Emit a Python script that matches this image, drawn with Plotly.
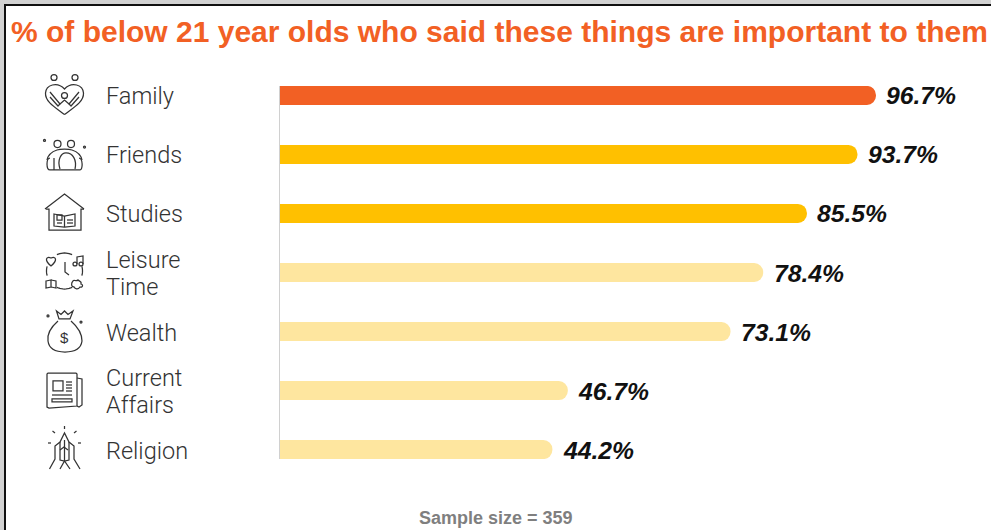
import math
import plotly.graph_objects as go

# Survey results
categories = ["Family", "Friends", "Studies", "Leisure Time", "Wealth", "Current Affairs", "Religion"]
values = [96.7, 93.7, 85.5, 78.4, 73.1, 46.7, 44.2]
bar_colors = ["#F26024", "#FFC000", "#FFC000", "#FEE69F", "#FEE69F", "#FEE69F", "#FEE69F"]
title_text = "% of below 21 year olds who said these things are important to them"
footer_text = "Sample size = 359"

W, H = 991, 530
LEFT, TOP, BOTTOM = 280, 86, 459
PX_PER_UNIT = 6.163
ICON = "#333333"


def px(x):
    return (x - LEFT) / (W - LEFT)


def py(y):
    return (BOTTOM - y) / (BOTTOM - TOP)


def path(*cmds):
    """Build an SVG path from page-pixel commands, expressed in paper coordinates."""
    out = []
    for c in cmds:
        letter, nums = c[0], c[1:]
        pts = []
        for i in range(0, len(nums), 2):
            pts.append(f"{px(nums[i]):.5f},{py(nums[i + 1]):.5f}")
        out.append(letter + " ".join(pts))
    return " ".join(out)


def circle(cx, cy, r):
    k = 0.5523 * r
    return [("M", cx + r, cy),
            ("C", cx + r, cy + k, cx + k, cy + r, cx, cy + r),
            ("C", cx - k, cy + r, cx - r, cy + k, cx - r, cy),
            ("C", cx - r, cy - k, cx - k, cy - r, cx, cy - r),
            ("C", cx + k, cy - r, cx + r, cy - k, cx + r, cy)]


def arc(cx, cy, r, a0, a1, n=10):
    pts = [(cx + r * math.cos(math.radians(a0 + (a1 - a0) * i / n)),
            cy + r * math.sin(math.radians(a0 + (a1 - a0) * i / n))) for i in range(n + 1)]
    return [("M", *pts[0])] + [("L", *p) for p in pts[1:]]


def poly(*xy, close=False):
    cmds = [("M", xy[0], xy[1])]
    for i in range(2, len(xy), 2):
        cmds.append(("L", xy[i], xy[i + 1]))
    if close:
        cmds.append(("Z",))
    return cmds


icon_parts = [
    # family: heart, three heads and two arms
    circle(54, 77.5, 3), circle(75, 77.5, 3), circle(64.5, 95.5, 3),
    [("M", 64.5, 114.5), ("C", 56, 108, 45, 102, 45.5, 93), ("C", 46, 85, 57, 81, 64.5, 89),
     ("C", 72, 81, 83, 85, 83.5, 93), ("C", 84, 102, 73, 108, 64.5, 114.5)],
    poly(50, 92, 60, 104, 58, 106, 50, 97), poly(79, 92, 69, 104, 71, 106, 79, 97),
    poly(60, 104, 64.5, 100, 69, 104),
    # friends
    circle(57.5, 144, 3.5), circle(71, 144, 3.5),
    circle(44.5, 140.5, 1), circle(84.5, 147, 1),
    [("M", 47, 160), ("C", 48, 155, 51, 152, 57, 150), ("C", 60, 149, 69, 149, 72, 150),
     ("C", 78, 152, 81, 155, 82, 160)],
    [("M", 60, 169), ("C", 57, 160, 61, 153, 66, 153), ("C", 73, 153, 77, 160, 75, 169)],
    [("M", 50, 170), ("L", 80, 170), ("C", 83, 170, 83, 158, 79, 158)],
    [("M", 50, 170), ("C", 46, 170, 46, 158, 50, 158)],
    poly(54, 158, 54, 170),
    # studies: house with an open book
    poly(45, 209, 64.5, 194, 84, 209), poly(46, 209, 49, 209, 49, 230, 81, 230, 81, 209, 84, 209),
    poly(54, 214, 64.5, 216, 75, 214, 75, 226, 64.5, 227, 54, 226, close=True), poly(64.5, 216, 64.5, 227),
    poly(57, 215, 62, 215, 62, 220, 57, 220, close=True), poly(57, 223, 62, 223),
    poly(67, 220, 73, 220), poly(67, 223, 73, 223),
    # leisure time: clock ringed by small pictures
    arc(64.5, 271, 18, -115, -65), arc(64.5, 271, 18, 65, 115),
    arc(64.5, 271, 18, 165, 195), arc(64.5, 271, 18, -15, 15),
    poly(65, 262, 65, 272, 69, 275),
    [("M", 51, 266), ("C", 44, 260, 46, 256, 51, 258), ("C", 56, 256, 58, 260, 51, 266)],
    circle(75, 264, 2), circle(81, 264, 2), poly(77, 264, 77, 257, 83, 256, 83, 264),
    poly(46, 281, 51, 280, 51, 287, 46, 288, close=True), poly(51, 280, 56, 281, 56, 288, 51, 287),
    [("M", 73, 281), ("C", 74, 279, 76, 282, 78, 280), ("C", 80, 282, 82, 281, 81, 284),
     ("C", 84, 285, 82, 288, 80, 287), ("C", 78, 290, 75, 289, 74, 287), ("C", 71, 287, 71, 283, 73, 281)],
    # wealth: money bag with crown tie
    poly(56.5, 311, 59, 319, 70, 319, 73, 311, 68, 314.5, 64.5, 311, 61, 314.5, close=True),
    [("M", 58, 321), ("C", 50, 328, 47, 335, 48, 341), ("C", 49, 349, 56, 352, 65, 352),
     ("C", 74, 352, 81, 349, 82, 341), ("C", 82, 335, 79, 328, 71, 321)],
    circle(48, 316, 1), circle(81, 322, 1),
    # current affairs: newspaper
    poly(48, 373, 76, 373, 77, 374, 77, 406, 49, 408, 47, 407, 47, 374, close=True),
    poly(77, 378, 82, 379, 82, 405, 79, 407, 77, 406),
    poly(53, 381, 63, 381, 63, 391, 53, 391, close=True),
    poly(66, 382, 72, 382), poly(66, 385, 72, 385), poly(66, 388, 72, 388), poly(66, 391, 72, 391),
    poly(52, 395, 72, 395), poly(52, 399, 72, 399, 72, 402, 52, 402, close=True),
    # religion: praying hands
    poly(49.5, 469, 55, 459, 55, 446, 60, 442, 64.5, 433, 69, 442, 74, 446, 74, 459, 80, 469),
    poly(60, 469, 64.5, 461, 70, 469), poly(60, 442, 60, 460, 64.5, 461, 69, 460, 69, 442),
    poly(64.5, 440, 64.5, 461), poly(60, 450, 64, 447, 68, 450),
    poly(64.5, 426, 64.5, 429), poly(52.5, 431, 55, 433), poly(76.5, 431, 74, 433),
    poly(48, 443, 51, 443), poly(78, 443, 81, 443),
]

shapes = [
    # white panel with the dark frame
    dict(type="rect", xref="paper", yref="paper", layer="below",
         x0=px(5), x1=px(W + 20), y0=py(5), y1=py(H + 20),
         fillcolor="white", line=dict(color="#111111", width=2)),
]
for part in icon_parts:
    shapes.append(dict(type="path", xref="paper", yref="paper", path=path(*part),
                       line=dict(color=ICON, width=1.25)))

annotations = []
# category labels, wrapped over two lines where they have two words
for cat in categories:
    words = cat.split(" ")
    for i, word in enumerate(words):
        annotations.append(dict(
            x=px(104), xref="paper", y=cat, yref="y", text=word, showarrow=False,
            xanchor="left", yanchor="middle", yshift=-1 + 13.25 * (len(words) - 1 - 2 * i),
            font=dict(family="Roboto", size=23.5, color="#333333", weight=300)))
# value labels at the end of each bar
for cat, val in zip(categories, values):
    annotations.append(dict(
        x=val, xref="x", y=cat, yref="y", text=f"{val}%", showarrow=False,
        xanchor="left", yanchor="middle", xshift=8.5, yshift=-0.5,
        font=dict(family="Liberation Sans", size=24.7, color="#111111", weight="bold", style="italic")))
annotations.append(dict(
    x=px(64.5), xref="paper", y=py(337), yref="paper", text="$", showarrow=False,
    xanchor="center", yanchor="middle",
    font=dict(family="Liberation Sans", size=15, color=ICON)))
annotations.append(dict(
    x=px(496), xref="paper", y=py(518), yref="paper", text=footer_text, showarrow=False,
    xanchor="center", yanchor="middle",
    font=dict(family="Liberation Sans", size=18, color="#7F7F7F", weight="bold")))

fig = go.Figure(go.Bar(
    x=values, y=categories, orientation="h", width=19 / 59,
    marker=dict(color=bar_colors, cornerradius=10, line_width=0),
    hoverinfo="skip"))

fig.update_layout(
    width=W, height=H, autosize=False, showlegend=False,
    margin=dict(l=LEFT, r=0, t=TOP, b=H - BOTTOM, pad=0),
    paper_bgcolor="#D2D2D2", plot_bgcolor="rgba(0,0,0,0)",
    title=dict(text=title_text, x=11 / W, xref="container", xanchor="left",
               y=1 - 31 / H, yref="container", yanchor="middle",
               font=dict(family="Liberation Sans", size=30, color="#F26024", weight="bold")),
    xaxis=dict(range=[0, (W - LEFT) / PX_PER_UNIT], visible=False),
    yaxis=dict(type="category", categoryorder="array", categoryarray=categories,
               range=[6.16, -0.16], showticklabels=False, ticks="", showgrid=False,
               zeroline=False, showline=True, linecolor="#D0D0D0", linewidth=1),
    shapes=shapes, annotations=annotations,
)

fig.write_html("out.html")
